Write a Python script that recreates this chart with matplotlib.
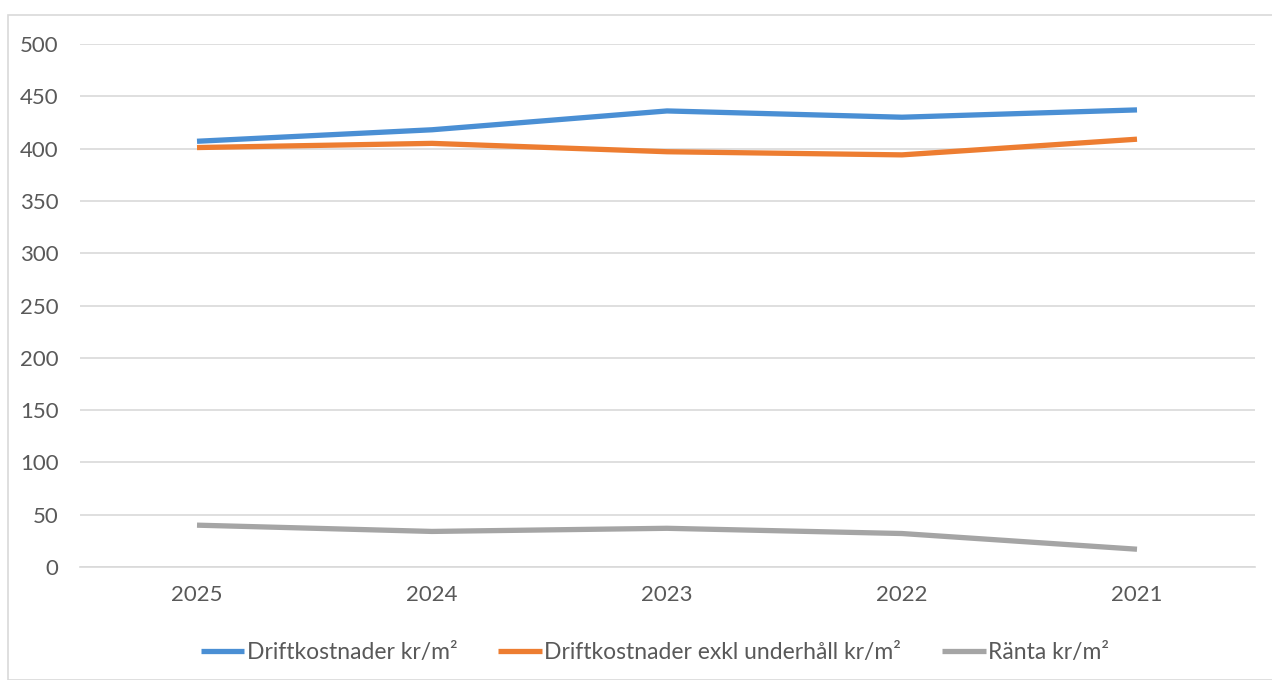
import matplotlib
matplotlib.use("Agg")
import matplotlib.pyplot as plt
from matplotlib.patches import Rectangle

years = ["2025", "2024", "2023", "2022", "2021"]
drift = [407, 418, 436, 430, 437]
drift_exkl = [401, 405, 397, 394, 409]
ranta = [40, 34, 37, 32, 17]

labels = ["Driftkostnader kr/m²", "Driftkostnader exkl underhåll kr/m²", "Ränta kr/m²"]
colors = ["#4a8fd4", "#ed7d31", "#a5a5a5"]

plt.rcParams["font.family"] = ["Lato", "DejaVu Sans"]

W, H = 1272, 680
fig = plt.figure(figsize=(W / 100, H / 100), dpi=100)
ax = fig.add_axes([79.5 / W, 1 - 567 / H, (1254.5 - 79.5) / W, (567 - 44) / H])

# outer chart frame
fig.patches.append(Rectangle((8 / W, 0), 1.2, 1 - 15 / H, transform=fig.transFigure,
                             fill=False, edgecolor="#d9d9d9", linewidth=1.2))

x = range(len(years))
for vals, lab, col in zip([drift, drift_exkl, ranta], labels, colors):
    ax.plot(x, vals, color=col, linewidth=3.8, label=lab, solid_capstyle="butt")

ax.set_xlim(-0.5, len(years) - 0.5)
ax.set_ylim(0, 500)
ax.set_yticks(range(0, 501, 50))
ax.set_xticks(list(x))
ax.set_xticklabels(years)
ax.grid(axis="y", color="#d9d9d9", linewidth=1.2)
ax.set_axisbelow(True)
for s in ["top", "right", "left"]:
    ax.spines[s].set_visible(False)
ax.spines["bottom"].set_color("#d9d9d9")
ax.spines["bottom"].set_linewidth(1.2)
ax.tick_params(axis="both", length=0, labelsize=16, colors="#595959")
ax.tick_params(axis="x", pad=13)
ax.tick_params(axis="y", pad=15)

fig.legend(loc="center", bbox_to_anchor=(655 / W, 1 - 653 / H), ncol=3, frameon=False,
           fontsize=16.5, labelcolor="#595959", handlelength=1.9, handletextpad=0.1,
           columnspacing=1.8)

fig.savefig("out.png", dpi=100)
